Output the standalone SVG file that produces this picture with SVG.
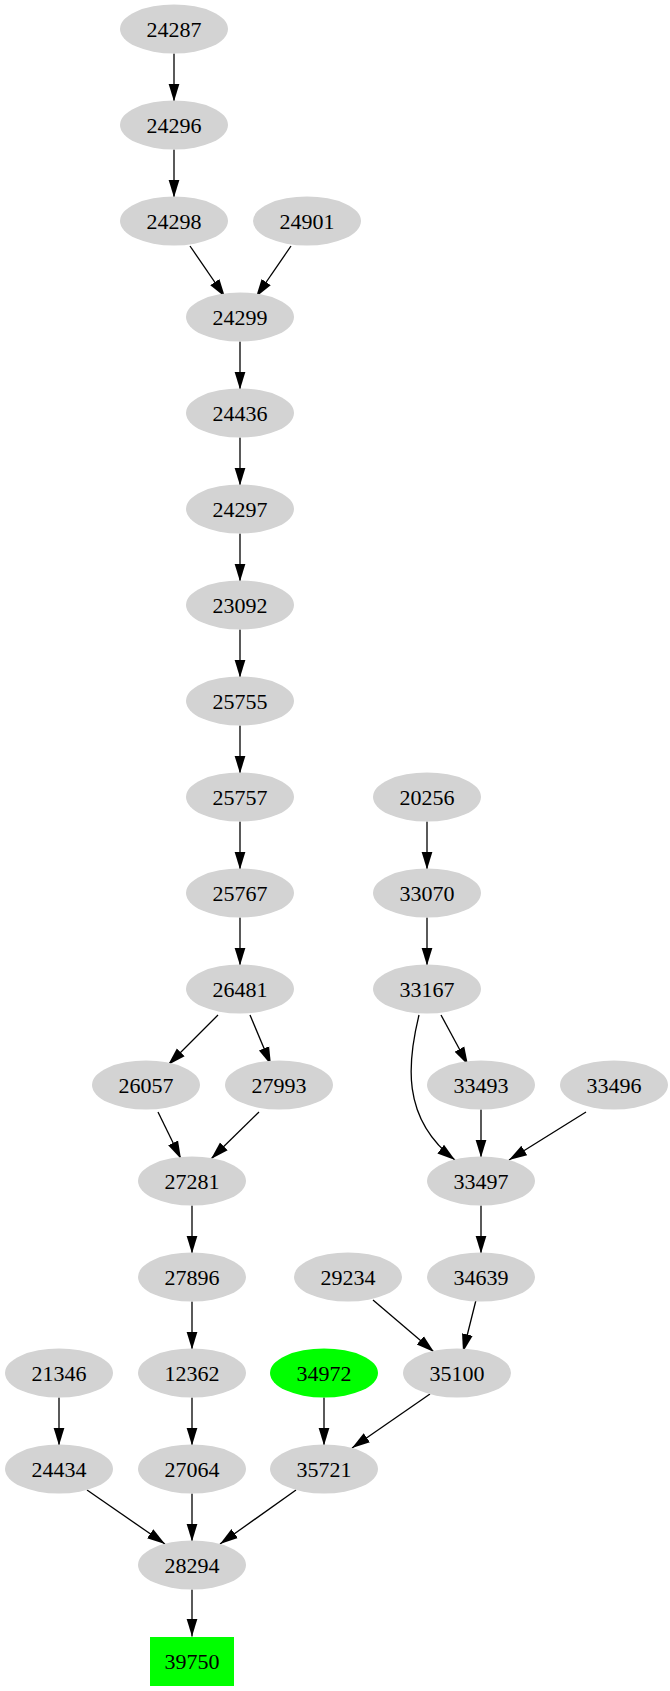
<svg xmlns="http://www.w3.org/2000/svg" width="670" height="1691" viewBox="0 0 670 1691">
<style>
.n ellipse{fill:#d3d3d3}
.g ellipse,.g rect{fill:#00ff00}
text{font-family:"Liberation Serif","Times New Roman",serif;font-size:22px;text-anchor:middle;dominant-baseline:central;fill:#000}
#edges path{fill:none;stroke:#000;stroke-width:1.3;marker-end:url(#ah)}
</style>
<defs>
<marker id="ah" markerUnits="userSpaceOnUse" markerWidth="20" markerHeight="14" refX="18" refY="6" orient="auto" viewBox="0 0 20 12">
<path d="M0,0.5 L18,6 L0,11.5 z" fill="#000"/>
</marker>
</defs>
<rect width="670" height="1691" fill="#fff"/>
<g id="edges">
<path d="M174,53.5V101.5"/>
<path d="M174,149.5V197.5"/>
<path d="M190,246L225,297"/>
<path d="M291,246L256,297"/>
<path d="M240,341.5V389.5"/>
<path d="M240,437.5V485.5"/>
<path d="M240,533.5V581.5"/>
<path d="M240,629.5V677.5"/>
<path d="M240,725.5V773.5"/>
<path d="M240,821.5V869.5"/>
<path d="M427,821.5V869.5"/>
<path d="M240,917.5V965.5"/>
<path d="M427,917.5V965.5"/>
<path d="M218,1015L168,1065"/>
<path d="M250,1015L271,1065"/>
<path d="M441,1015L468,1065"/>
<path d="M419,1015C408,1060 400,1118 455,1160"/>
<path d="M158,1112L181,1159"/>
<path d="M259,1112L211,1159"/>
<path d="M481,1109.5V1157.5"/>
<path d="M586,1112L509,1160"/>
<path d="M192,1205.5V1253.5"/>
<path d="M481,1205.5V1253.5"/>
<path d="M373,1300L434,1352"/>
<path d="M476,1300L463,1352"/>
<path d="M192,1301.5V1349.5"/>
<path d="M59,1397.5V1445.5"/>
<path d="M192,1397.5V1445.5"/>
<path d="M324,1397.5V1445.5"/>
<path d="M430,1394L352,1448"/>
<path d="M87,1490L165,1544"/>
<path d="M192,1493.5V1541.5"/>
<path d="M296,1490L220,1544"/>
<path d="M192,1589.5V1636.5"/>
</g>
<g id="n24287" class="n"><ellipse cx="174" cy="29" rx="54" ry="24.5"/><text x="174" y="29">24287</text></g>
<g id="n24296" class="n"><ellipse cx="174" cy="125" rx="54" ry="24.5"/><text x="174" y="125">24296</text></g>
<g id="n24298" class="n"><ellipse cx="174" cy="221" rx="54" ry="24.5"/><text x="174" y="221">24298</text></g>
<g id="n24901" class="n"><ellipse cx="307" cy="221" rx="54" ry="24.5"/><text x="307" y="221">24901</text></g>
<g id="n24299" class="n"><ellipse cx="240" cy="317" rx="54" ry="24.5"/><text x="240" y="317">24299</text></g>
<g id="n24436" class="n"><ellipse cx="240" cy="413" rx="54" ry="24.5"/><text x="240" y="413">24436</text></g>
<g id="n24297" class="n"><ellipse cx="240" cy="509" rx="54" ry="24.5"/><text x="240" y="509">24297</text></g>
<g id="n23092" class="n"><ellipse cx="240" cy="605" rx="54" ry="24.5"/><text x="240" y="605">23092</text></g>
<g id="n25755" class="n"><ellipse cx="240" cy="701" rx="54" ry="24.5"/><text x="240" y="701">25755</text></g>
<g id="n25757" class="n"><ellipse cx="240" cy="797" rx="54" ry="24.5"/><text x="240" y="797">25757</text></g>
<g id="n20256" class="n"><ellipse cx="427" cy="797" rx="54" ry="24.5"/><text x="427" y="797">20256</text></g>
<g id="n25767" class="n"><ellipse cx="240" cy="893" rx="54" ry="24.5"/><text x="240" y="893">25767</text></g>
<g id="n33070" class="n"><ellipse cx="427" cy="893" rx="54" ry="24.5"/><text x="427" y="893">33070</text></g>
<g id="n26481" class="n"><ellipse cx="240" cy="989" rx="54" ry="24.5"/><text x="240" y="989">26481</text></g>
<g id="n33167" class="n"><ellipse cx="427" cy="989" rx="54" ry="24.5"/><text x="427" y="989">33167</text></g>
<g id="n26057" class="n"><ellipse cx="146" cy="1085" rx="54" ry="24.5"/><text x="146" y="1085">26057</text></g>
<g id="n27993" class="n"><ellipse cx="279" cy="1085" rx="54" ry="24.5"/><text x="279" y="1085">27993</text></g>
<g id="n33493" class="n"><ellipse cx="481" cy="1085" rx="54" ry="24.5"/><text x="481" y="1085">33493</text></g>
<g id="n33496" class="n"><ellipse cx="614" cy="1085" rx="54" ry="24.5"/><text x="614" y="1085">33496</text></g>
<g id="n27281" class="n"><ellipse cx="192" cy="1181" rx="54" ry="24.5"/><text x="192" y="1181">27281</text></g>
<g id="n33497" class="n"><ellipse cx="481" cy="1181" rx="54" ry="24.5"/><text x="481" y="1181">33497</text></g>
<g id="n27896" class="n"><ellipse cx="192" cy="1277" rx="54" ry="24.5"/><text x="192" y="1277">27896</text></g>
<g id="n29234" class="n"><ellipse cx="348" cy="1277" rx="54" ry="24.5"/><text x="348" y="1277">29234</text></g>
<g id="n34639" class="n"><ellipse cx="481" cy="1277" rx="54" ry="24.5"/><text x="481" y="1277">34639</text></g>
<g id="n21346" class="n"><ellipse cx="59" cy="1373" rx="54" ry="24.5"/><text x="59" y="1373">21346</text></g>
<g id="n12362" class="n"><ellipse cx="192" cy="1373" rx="54" ry="24.5"/><text x="192" y="1373">12362</text></g>
<g id="n34972" class="g"><ellipse cx="324" cy="1373" rx="54" ry="24.5"/><text x="324" y="1373">34972</text></g>
<g id="n35100" class="n"><ellipse cx="457" cy="1373" rx="54" ry="24.5"/><text x="457" y="1373">35100</text></g>
<g id="n24434" class="n"><ellipse cx="59" cy="1469" rx="54" ry="24.5"/><text x="59" y="1469">24434</text></g>
<g id="n27064" class="n"><ellipse cx="192" cy="1469" rx="54" ry="24.5"/><text x="192" y="1469">27064</text></g>
<g id="n35721" class="n"><ellipse cx="324" cy="1469" rx="54" ry="24.5"/><text x="324" y="1469">35721</text></g>
<g id="n28294" class="n"><ellipse cx="192" cy="1565" rx="54" ry="24.5"/><text x="192" y="1565">28294</text></g>
<g id="n39750" class="g"><rect x="150" y="1637" width="84" height="49"/><text x="192" y="1661">39750</text></g>
</svg>
